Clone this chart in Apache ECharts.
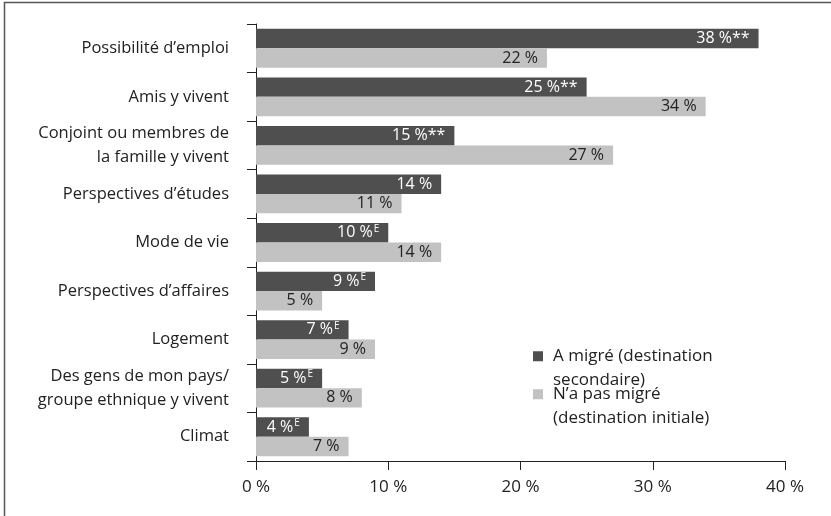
<!DOCTYPE html>
<html>
    <head>
        <meta charset="utf-8">
        <script src="https://cdn.jsdelivr.net/npm/echarts@6/dist/echarts.min.js"></script>
        <style>
            html, body {
                margin: 0;
                padding: 0;
                background: #fff;
            }
            #main {
                width: 831px;
                height: 516px;
            }
        </style>
    </head>
    <body>
        <div id="main"></div>
        <script>

            var categories = [
                'Possibilité d’emploi',
                'Amis y vivent',
                'Conjoint ou membres de\nla famille y vivent',
                'Perspectives d’études',
                'Mode de vie',
                'Perspectives d’affaires',
                'Logement',
                'Des gens de mon pays/\ngroupe ethnique y vivent',
                'Climat'
            ];
            var migrated = [38, 25, 15, 14, 10, 9, 7, 5, 4];
            var migratedMarks = ['**', '**', '**', '', 'E', 'E', 'E', 'E', 'E'];
            var notMigrated = [22, 34, 27, 11, 14, 5, 9, 8, 7];
            var xTicks = [0, 10, 20, 30, 40];

            var seriesNames = ['A migré (destination\nsecondaire)', 'N’a pas migré\n(destination initiale)'];

            var FONT = '"Open Sans", "Noto Sans", sans-serif';
            var DARK = '#4f4f4f';
            var LIGHT = '#c2c2c2';

            function markLabel(params) {
                var mark = migratedMarks[params.dataIndex];
                var txt = '{v|' + params.value + ' %}';
                if (mark === 'E') {
                    txt += '{sup|E}';
                }
                else if (mark) {
                    txt += '{v|' + mark + '}';
                }
                return txt;
            }

            var chart = echarts.init(document.getElementById('main'));

            // leading blank line puts the marker level with the first text line
            function legendItem(name, top) {
                return {
                    data: [name],
                    left: 533,
                    top: top,
                    padding: 0,
                    itemWidth: 10,
                    itemHeight: 10,
                    icon: 'rect',
                    formatter: function (n) {
                        return '\n' + n;
                    },
                    textStyle: {
                        fontFamily: FONT,
                        fontSize: 17,
                        lineHeight: 23.5,
                        color: '#222',
                        padding: [0, 0, 0, 5]
                    }
                };
            }

            var option = {
                animation: false,
                graphic: [{
                    type: 'rect',
                    shape: { x: 4.5, y: 2.5, width: 900, height: 600 },
                    style: { fill: 'none', stroke: '#555', lineWidth: 1.5 },
                    silent: true
                }],
                legend: [
                    legendItem(seriesNames[0], 321),
                    legendItem(seriesNames[1], 359)
                ],
                grid: {
                    left: 256,
                    right: 46,
                    top: 24,
                    bottom: 55
                },
                xAxis: {
                    type: 'value',
                    min: xTicks[0],
                    max: xTicks[xTicks.length - 1],
                    interval: 10,
                    axisLine: { show: true, lineStyle: { color: '#222', width: 1 } },
                    axisTick: { show: true, length: 9, lineStyle: { color: '#222' } },
                    splitLine: { show: false },
                    axisLabel: {
                        margin: 18,
                        fontFamily: FONT,
                        fontSize: 17,
                        color: '#222',
                        formatter: '{value} %'
                    }
                },
                yAxis: {
                    type: 'category',
                    data: categories,
                    inverse: true,
                    axisLine: { show: true, lineStyle: { color: '#222', width: 1 } },
                    axisTick: { show: true, length: 9, lineStyle: { color: '#222' } },
                    axisLabel: {
                        margin: 27,
                        fontFamily: FONT,
                        fontSize: 16.5,
                        lineHeight: 23.5,
                        color: '#222'
                    }
                },
                series: [
                    {
                        name: seriesNames[0],
                        type: 'bar',
                        data: migrated,
                        barGap: '0%',
                        barCategoryGap: '20%',
                        itemStyle: { color: DARK },
                        label: {
                            show: true,
                            position: 'insideRight',
                            distance: 9,
                            formatter: markLabel,
                            rich: {
                                v: { fontFamily: FONT, fontSize: 16, color: '#fff' },
                                sup: { fontFamily: FONT, fontSize: 10, color: '#fff', verticalAlign: 'top', padding: [0, 0, 8, 1] }
                            }
                        }
                    },
                    {
                        name: seriesNames[1],
                        type: 'bar',
                        data: notMigrated,
                        barGap: '0%',
                        barCategoryGap: '20%',
                        itemStyle: { color: LIGHT },
                        label: {
                            show: true,
                            position: 'insideRight',
                            distance: 9,
                            formatter: '{c} %',
                            fontFamily: FONT,
                            fontSize: 16,
                            color: '#222'
                        }
                    }
                ]
            };

            chart.setOption(option);

        </script>
    </body>
</html>
